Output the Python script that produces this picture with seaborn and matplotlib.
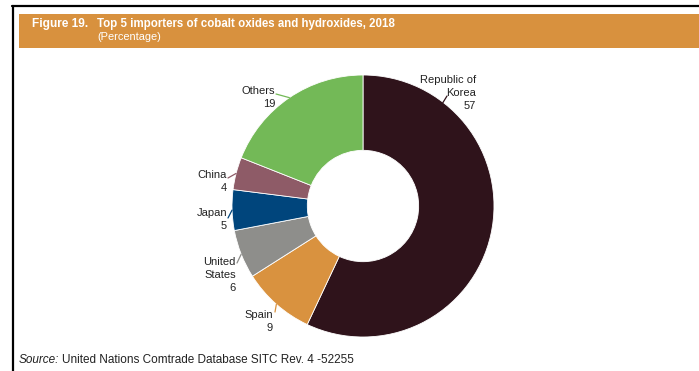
import numpy as np
import matplotlib
matplotlib.use("Agg")
import matplotlib.pyplot as plt
from matplotlib.patches import Rectangle
from matplotlib.lines import Line2D
import seaborn as sns

# Share of cobalt oxide/hydroxide imports, 2018 (percent)
countries = ["Republic of\nKorea", "Spain", "United\nStates", "Japan", "China", "Others"]
shares = [57, 9, 6, 5, 4, 19]
slice_colors = ["#2F131B", "#D9923F", "#8E8E8B", "#00457C", "#8E5B67", "#73B957"]

fig_label = "Figure 19."
title = "Top 5 importers of cobalt oxides and hydroxides, 2018"
subtitle = "(Percentage)"
source_lead = "Source:"
source_rest = "United Nations Comtrade Database SITC Rev. 4 -52255"

sns.set_theme(style="white")
plt.rcParams["font.family"] = ["Liberation Sans", "DejaVu Sans"]

W, H = 699, 371
fig = plt.figure(figsize=(W / 100, H / 100), dpi=100)
fig.patch.set_facecolor("white")


def fx(px):
    return px / W


def fy(py):
    return 1 - py / H


def width_px(txt):
    fig.canvas.draw()
    return txt.get_window_extent().width


def fit_width(txt, target_px):
    """Scale a text's font size so that it spans target_px pixels."""
    txt.set_fontsize(txt.get_fontsize() * target_px / width_px(txt))


# frame lines and header band
fig.add_artist(Line2D([fx(12), 1], [fy(6), fy(6)], color="black", lw=1.6))
fig.add_artist(Line2D([fx(12.5), fx(12.5)], [fy(6), 0], color="black", lw=1.6))
fig.add_artist(Rectangle((fx(19), fy(48)), 1 - fx(19), fy(14) - fy(48),
                         transform=fig.transFigure, facecolor="#D8913E",
                         edgecolor="none"))
t1 = fig.text(fx(32), fy(24), fig_label, color="white", fontsize=9,
              fontweight="bold", va="center", ha="left")
t2 = fig.text(fx(97), fy(24), title, color="white", fontsize=9,
              fontweight="bold", va="center", ha="left")
t3 = fig.text(fx(97), fy(37), subtitle, color="white", fontsize=9,
              va="center", ha="left")
fit_width(t1, 56)
fit_width(t2, 298)
fit_width(t3, 64)

# donut chart
cx, cy, r = 363, 206, 131
ax = fig.add_axes([fx(cx - r), fy(cy + r), 2 * r / W, 2 * r / H])
wedges, _ = ax.pie(shares, colors=slice_colors, startangle=90, counterclock=False,
                   radius=1.0, wedgeprops=dict(width=0.575, edgecolor="white",
                                               linewidth=0.6))
ax.set_xlim(-1, 1)
ax.set_ylim(-1, 1)
ax.set_aspect("equal")
ax.axis("off")

# label placement: text anchor (right edge, first-line centre) and leader start, in pixels
label_pos = {
    "Republic of\nKorea": ((476, 80), (447, 96)),
    "Spain": ((273, 315), (275, 312)),
    "United\nStates": ((236, 262), (237, 263)),
    "Japan": ((227, 213), (228, 218)),
    "China": ((227, 175), (228, 178)),
    "Others": ((275, 91), (276, 94)),
}
leader_angle = {"Republic of\nKorea": (52.0, 0.95)}
line_gap = 13

for w, name, val, col in zip(wedges, countries, shares, slice_colors):
    (tx, ty), (lx, ly) = label_pos[name]
    lines = name.split("\n") + [str(val)]
    for i, s in enumerate(lines):
        fig.text(fx(tx), fy(ty + i * line_gap), s, fontsize=8, ha="right",
                 va="center", color="#222222")
    ang, rad = leader_angle.get(name, (0.5 * (w.theta1 + w.theta2), 1.0))
    ex = rad * np.cos(np.radians(ang))
    ey = rad * np.sin(np.radians(ang))
    ax.annotate("", xy=(ex, ey), xycoords="data",
                xytext=(fx(lx), fy(ly)), textcoords="figure fraction",
                arrowprops=dict(arrowstyle="-", color=col, lw=0.9,
                                shrinkA=0, shrinkB=0))

# source note: italic lead-in followed by the plain text, same size
src_x0, src_x1, src_gap = 19, 355, 3
s1 = fig.text(fx(src_x0), fy(360), source_lead, fontsize=9, style="italic",
              ha="left", va="center", color="#222222")
s2 = fig.text(fx(src_x0), fy(360), source_rest, fontsize=9, ha="left",
              va="center", color="#222222")
total = width_px(s1) + width_px(s2) + src_gap
scale = (src_x1 - src_x0 - src_gap) / (total - src_gap)
s1.set_fontsize(9 * scale)
s2.set_fontsize(9 * scale)
s2.set_x(fx(src_x0 + width_px(s1) + src_gap))

fig.savefig("out.png", dpi=100)
